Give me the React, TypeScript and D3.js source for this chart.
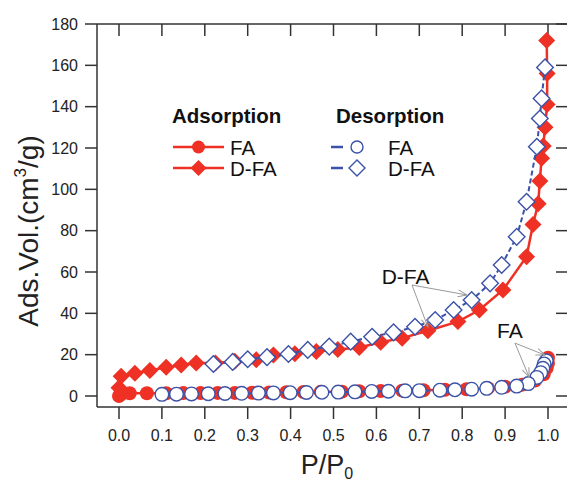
import React from "react";
import * as d3 from "d3";

// Adsorption FA (red filled circles)
const adsFAx = [0.0, 0.004, 0.025, 0.065, 0.11, 0.15, 0.19, 0.23, 0.27, 0.31, 0.35, 0.39, 0.43, 0.47, 0.52, 0.56, 0.61, 0.66, 0.71, 0.76, 0.81, 0.86, 0.9, 0.94, 0.97, 0.99, 0.997, 1.0, 1.0];
const adsFAy = [0, 0.8, 1.3, 1.3, 1.3, 1.4, 1.4, 1.5, 1.5, 1.6, 1.7, 1.8, 1.9, 2.0, 2.1, 2.3, 2.4, 2.6, 2.8, 3.0, 3.3, 3.8, 4.5, 5.5, 7.5, 10.5, 13.5, 16, 18.5];

// Adsorption D-FA (red filled diamonds)
const adsDFAx = [0.0, 0.005, 0.037, 0.072, 0.11, 0.145, 0.18, 0.225, 0.27, 0.32, 0.36, 0.41, 0.46, 0.51, 0.56, 0.61, 0.66, 0.72, 0.79, 0.84, 0.895, 0.95, 0.965, 0.977, 0.981, 0.985, 0.989, 0.993, 0.998, 0.998, 0.997];
const adsDFAy = [4, 9.5, 11, 12.3, 13.9, 15, 16, 16, 16.8, 17.5, 19.8, 20.5, 21.5, 22.5, 23.5, 26, 28, 31.6, 36, 41.6, 51.3, 67.4, 83, 93, 104, 115, 121, 130, 141, 156, 172];

// Desorption FA (blue open circles)
const desFAx = [0.996, 0.991, 0.988, 0.983, 0.974, 0.954, 0.927, 0.892, 0.857, 0.822, 0.783, 0.748, 0.70, 0.667, 0.628, 0.589, 0.55, 0.511, 0.473, 0.437, 0.399, 0.36, 0.325, 0.286, 0.247, 0.208, 0.169, 0.134, 0.1];
const desFAy = [17.0, 15.5, 13.4, 11.3, 9.0, 6.0, 4.8, 4.2, 3.7, 3.3, 3.0, 2.8, 2.6, 2.5, 2.3, 2.2, 2.0, 1.9, 1.8, 1.7, 1.6, 1.5, 1.4, 1.3, 1.2, 1.1, 1.0, 0.9, 0.8];

// Desorption D-FA (blue open diamonds)
const desDFAx = [0.993, 0.985, 0.981, 0.974, 0.95, 0.927, 0.892, 0.865, 0.822, 0.78, 0.737, 0.69, 0.64, 0.59, 0.54, 0.49, 0.44, 0.395, 0.345, 0.30, 0.265, 0.22];
const desDFAy = [159, 144, 134.3, 120.6, 94, 77, 63.4, 54.5, 46.4, 41.6, 36.8, 33.5, 30.8, 28.7, 26.3, 23.9, 22.3, 20.3, 18.8, 17.8, 16.5, 15.5];

const xTicks = [0.0, 0.1, 0.2, 0.3, 0.4, 0.5, 0.6, 0.7, 0.8, 0.9, 1.0];
const yTicks = [0, 20, 40, 60, 80, 100, 120, 140, 160, 180];

const RED = "#ee3124";
const BLUE = "#3b52a8";
const AX = "#333";
const FONT = "'Liberation Sans', Arial, Helvetica, sans-serif";

type P = [number, number];
const zip = (xs: number[], ys: number[]): P[] => xs.map((v, i) => [v, ys[i]]);

export default function App() {
  const W = 567, H = 484;
  const L = 97, R = 568, T = 24, B = 407;
  const x = d3.scaleLinear().domain([0, 1]).range([119, 548]);
  const y = d3.scaleLinear().domain([0, 180]).range([396, 24]);
  const line = d3.line<P>().x(d => x(d[0])).y(d => y(d[1]));

  const adsFA = zip(adsFAx, adsFAy);
  const adsDFA = zip(adsDFAx, adsDFAy);
  const desFA = zip(desFAx, desFAy);
  const desDFA = zip(desDFAx, desDFAy);

  const dia = (cx: number, cy: number, r: number) => `M${cx},${cy - r}L${cx + r},${cy}L${cx},${cy + r}L${cx - r},${cy}Z`;

  // annotation anchors (data coords)
  const dfaText: P = [0.668, 57.6];
  const dfaFrom: P = [0.683, 53.7];
  const dfaTo: P[] = [[0.811, 48.9], [0.72, 33.4]];
  const faText: P = [0.911, 31.9];
  const faFrom: P = [0.923, 25.6];
  const faTo: P[] = [[0.956, 9.2], [0.993, 19.8]];

  return (
    <svg width={W} height={H} style={{ position: "absolute", left: 0, top: 0, background: "#fff" }} fontFamily={FONT}>
      <defs>
        <marker id="arr" viewBox="-10 -6 12 12" refX="0" refY="0" markerWidth="12" markerHeight="12" markerUnits="userSpaceOnUse" orient="auto">
          <path d="M-9,-3.5L0,0L-9,3.5" fill="none" stroke="#9a9a9a" strokeWidth={1} />
        </marker>
        <clipPath id="clip"><rect x={L} y={T - 12} width={R - L} height={B - T + 12} /></clipPath>
      </defs>
      <rect x={0} y={0} width={W} height={H} fill="#fff" />

      {/* frame */}
      <g stroke={AX} strokeWidth={1.5} fill="none">
        <line x1={L} y1={T} x2={L} y2={B} />
        <line x1={L} y1={B} x2={R} y2={B} />
        <line x1={L} y1={T} x2={R} y2={T} />
        <line x1={R} y1={T} x2={R} y2={B} />
        {yTicks.map(t => (
          <g key={"y" + t}>
            <line x1={L - 12} x2={L} y1={y(t)} y2={y(t)} />
            <line x1={R - 12} x2={R} y1={y(t)} y2={y(t)} />
          </g>
        ))}
        {xTicks.map(t => (
          <g key={"x" + t}>
            <line x1={x(t)} x2={x(t)} y1={B} y2={B + 12} />
            <line x1={x(t)} x2={x(t)} y1={T} y2={T + 12} />
          </g>
        ))}
      </g>
      <g fontSize={16} fill="#222">
        {yTicks.map(t => (
          <text key={"yl" + t} x={78} y={y(t)} textAnchor="end" dominantBaseline="central">{t}</text>
        ))}
        {xTicks.map(t => (
          <text key={"xl" + t} x={x(t)} y={441} textAnchor="middle">{t.toFixed(1)}</text>
        ))}
      </g>

      {/* axis titles */}
      <text x={327} y={474} textAnchor="middle" fontSize={27} fill="#222">
        P/P<tspan fontSize={16} dy={5}>0</tspan>
      </text>
      <text transform={`translate(38,231) rotate(-90)`} textAnchor="middle" fontSize={28} fill="#222">
        Ads.Vol.(cm<tspan fontSize={17} dy={-12}>3</tspan><tspan dy={12}>/g)</tspan>
      </text>

      {/* data */}
      <g clipPath="url(#clip)">
        <path d={line(adsFA) || ""} fill="none" stroke={RED} strokeWidth={2.5} />
        <path d={line(adsDFA) || ""} fill="none" stroke={RED} strokeWidth={2.5} />
        {adsFA.map((d, i) => <circle key={"af" + i} cx={x(d[0])} cy={y(d[1])} r={7} fill={RED} />)}
        {adsDFA.map((d, i) => <path key={"ad" + i} d={dia(x(d[0]), y(d[1]), 8.5)} fill={RED} />)}
        <path d={line(desFA) || ""} fill="none" stroke={BLUE} strokeWidth={2} strokeDasharray="5,3" />
        <path d={line(desDFA) || ""} fill="none" stroke={BLUE} strokeWidth={2} strokeDasharray="5,3" />
        {desFA.map((d, i) => <circle key={"df" + i} cx={x(d[0])} cy={y(d[1])} r={6.8} fill="#fff" stroke={BLUE} strokeWidth={1.4} />)}
        {desDFA.map((d, i) => <path key={"dd" + i} d={dia(x(d[0]), y(d[1]), 8.3)} fill="#fff" stroke={BLUE} strokeWidth={1.4} />)}
      </g>

      {/* annotations */}
      <g stroke="#9a9a9a" strokeWidth={1} fill="none">
        {dfaTo.map((p, i) => (
          <line key={"da" + i} x1={x(dfaFrom[0])} y1={y(dfaFrom[1])} x2={x(p[0])} y2={y(p[1])} markerEnd="url(#arr)" />
        ))}
        {faTo.map((p, i) => (
          <line key={"fa" + i} x1={x(faFrom[0])} y1={y(faFrom[1])} x2={x(p[0])} y2={y(p[1])} markerEnd="url(#arr)" />
        ))}
      </g>
      <text x={x(dfaText[0])} y={y(dfaText[1])} textAnchor="middle" dominantBaseline="central" fontSize={21} fill="#111">D-FA</text>
      <text x={x(faText[0])} y={y(faText[1])} textAnchor="middle" dominantBaseline="central" fontSize={21} fill="#111">FA</text>

      {/* legend */}
      <g fill="#111">
        <text x={172} y={123} fontSize={20.5} fontWeight="bold">Adsorption</text>
        <text x={336} y={123} fontSize={20.5} fontWeight="bold">Desorption</text>
        <line x1={173} x2={224} y1={147} y2={147} stroke={RED} strokeWidth={2.5} />
        <circle cx={198.5} cy={147} r={6.5} fill={RED} />
        <text x={230} y={147} fontSize={20.5} dominantBaseline="central">FA</text>
        <line x1={173} x2={224} y1={168} y2={168} stroke={RED} strokeWidth={2.5} />
        <path d={dia(198.5, 168, 8)} fill={RED} />
        <text x={230} y={168} fontSize={20.5} dominantBaseline="central">D-FA</text>

        <line x1={331} x2={343} y1={147} y2={147} stroke={BLUE} strokeWidth={2.5} />
        <circle cx={357} cy={147} r={6} fill="#fff" stroke={BLUE} strokeWidth={1.4} />
        <text x={388} y={147} fontSize={20.5} dominantBaseline="central">FA</text>
        <line x1={331} x2={343} y1={168} y2={168} stroke={BLUE} strokeWidth={2.5} />
        <path d={dia(357, 168, 8)} fill="#fff" stroke={BLUE} strokeWidth={1.4} />
        <text x={388} y={168} fontSize={20.5} dominantBaseline="central">D-FA</text>
      </g>
    </svg>
  );
}
